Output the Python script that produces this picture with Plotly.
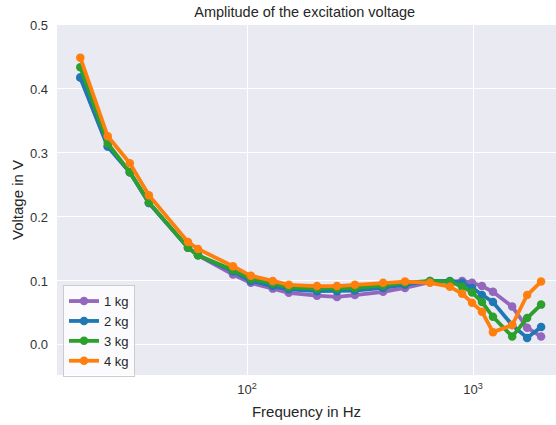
import plotly.graph_objects as go

freq = [18.3, 24.2, 30.3, 36.8, 54.8, 60.7, 86.7, 104, 130, 153, 204, 250, 300,
        400, 500, 645, 790, 895, 990, 1095, 1225, 1490, 1735, 2000]

v_1kg = [0.418, 0.310, 0.270, 0.222, 0.152, 0.140, 0.110, 0.097, 0.088, 0.0815, 0.077, 0.075, 0.078,
         0.083, 0.089, 0.098, 0.099, 0.100, 0.097, 0.092, 0.083, 0.060, 0.027, 0.013]
v_2kg = [0.418, 0.310, 0.270, 0.222, 0.152, 0.140, 0.115, 0.100, 0.092, 0.087, 0.084, 0.084, 0.085,
         0.089, 0.094, 0.100, 0.100, 0.097, 0.089, 0.078, 0.067, 0.031, 0.011, 0.028]
v_3kg = [0.434, 0.315, 0.270, 0.223, 0.152, 0.140, 0.117, 0.103, 0.096, 0.090, 0.088, 0.088, 0.089,
         0.093, 0.097, 0.100, 0.099, 0.091, 0.082, 0.067, 0.044, 0.013, 0.042, 0.063]
v_4kg = [0.449, 0.326, 0.284, 0.234, 0.161, 0.150, 0.123, 0.108, 0.100, 0.094, 0.092, 0.092, 0.094,
         0.097, 0.099, 0.097, 0.091, 0.080, 0.066, 0.052, 0.020, 0.031, 0.078, 0.099]

series = [("1 kg", v_1kg, "#9467bd"), ("2 kg", v_2kg, "#1f77b4"),
          ("3 kg", v_3kg, "#2ca02c"), ("4 kg", v_4kg, "#ff7f0e")]

fig = go.Figure()
for name, vals, col in series:
    fig.add_trace(go.Scatter(x=freq, y=vals, name=name, mode="lines+markers",
                             line=dict(color=col, width=3.8),
                             marker=dict(color=col, size=8.5)))

font = "Liberation Sans, Arial, sans-serif"
fig.update_layout(
    width=556, height=425,
    margin=dict(l=57, r=0, t=25, b=50, autoexpand=False),
    paper_bgcolor="white", plot_bgcolor="#EAEAF2",
    font=dict(family=font, size=13, color="#333333"),
    title=dict(text="Amplitude of the excitation voltage", x=0.548, xanchor="center",
               y=0.972, yanchor="middle", font=dict(size=14.5, color="#262626")),
    showlegend=True,
    legend=dict(x=0.012, y=-0.006, xanchor="left", yanchor="bottom",
                bgcolor="rgba(255,255,255,0.8)", bordercolor="#CCCCCC", borderwidth=1,
                font=dict(size=13, color="#262626"), itemwidth=30, tracegroupgap=0),
    xaxis=dict(type="log", range=[1.1593, 3.367], tickvals=[100, 1000],
               ticktext=["10<sup>2</sup>", "10<sup>3</sup>"], automargin=False,
               showgrid=True, gridcolor="white", gridwidth=1, zeroline=False,
               showline=False, ticks="", ticklabelstandoff=5,
               title=dict(text="Frequency in Hz", font=dict(size=15, color="#262626"), standoff=10)),
    yaxis=dict(range=[-0.047, 0.5], tickvals=[0, 0.1, 0.2, 0.3, 0.4, 0.5], automargin=False,
               tickformat=".1f", showgrid=True, gridcolor="white", gridwidth=1,
               zeroline=False, showline=False, ticks="", ticklabelstandoff=8,
               title=dict(text="Voltage in V", font=dict(size=15, color="#262626"), standoff=2)),
)

fig.write_html("out.html", config={"displayModeBar": False},
               post_script="document.body.style.margin='0';document.body.style.overflow='hidden';")
